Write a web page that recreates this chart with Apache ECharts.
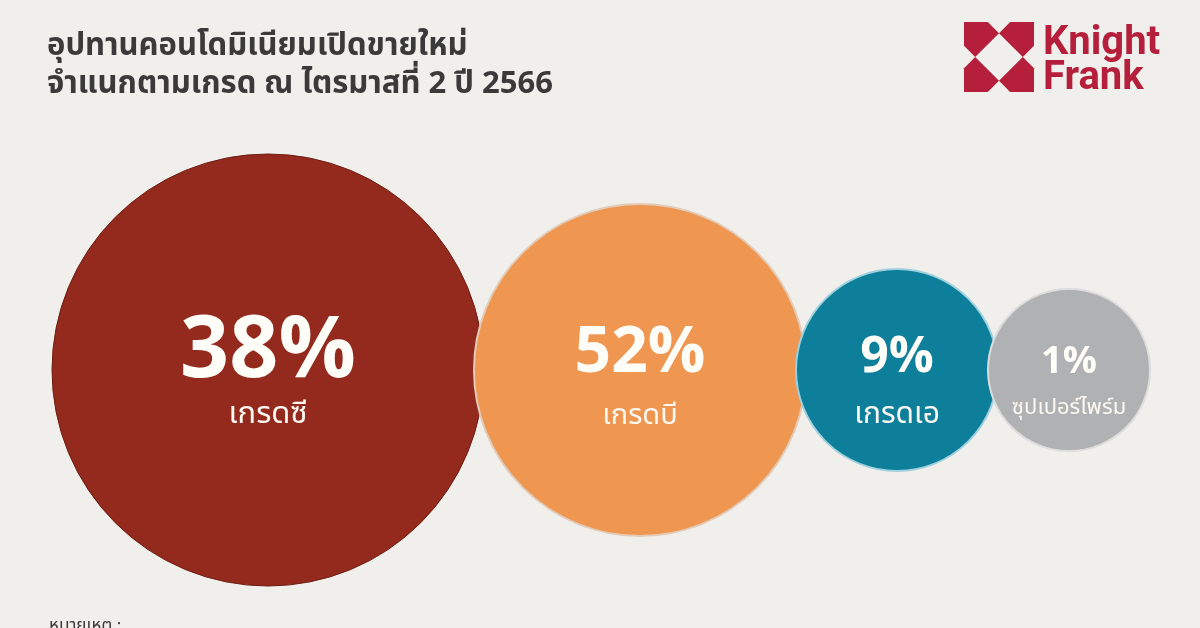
<!DOCTYPE html>
<html>
<head>
<meta charset="utf-8">
<script src="https://cdn.jsdelivr.net/npm/echarts@6/dist/echarts.min.js"></script>
<style>
html,body{margin:0;padding:0;background:#f0efeb;}
#c{width:1200px;height:628px;}
</style>
</head>
<body>
<div id="c"></div>
<script>
// ---- data ----
const categories = ['เกรดซี', 'เกรดบี', 'เกรดเอ', 'ซุปเปอร์ไพร์ม'];
const shares = [38, 52, 9, 1];
const titleLines = ['อุปทานคอนโดมิเนียมเปิดขายใหม่', 'จำแนกตามเกรด ณ ไตรมาสที่ 2 ปี 2566'];
const noteText = 'หมายเหตุ :';

// ---- styles ----
const colors = ['#932a1d', '#ef9650', '#0e7f9a', '#b0b1b3'];
const borders = ['#6e1d13', '#e2cbb8', '#9fd0de', '#dcdcdc'];
const diameters = [432, 332, 202, 162];
const overlap = 10;
const leftStart = 52;
const centerY = 370;
const valueFont = [86, 64, 50, 38];
const nameFont = [31, 29, 30, 22];
const valueLH = [32, 34, 24, 20];
const nameLH = [82, 84, 86, 70];
const labelShift = [31, 31, 35, 30];
const FONT = "'Noto Sans Thai','Noto Sans Thai UI','Noto Sans','Noto Sans CJK SC',sans-serif";

// layout: bubbles placed side by side with small overlap
const xs = [];
let cursor = leftStart;
diameters.forEach((d, i) => {
  xs.push(cursor + d / 2);
  cursor += d - overlap;
});

const seriesData = shares.map((v, i) => ({
  value: [xs[i], centerY, v],
  name: categories[i],
  symbolSize: diameters[i],
  itemStyle: { color: colors[i], borderColor: borders[i], borderWidth: i === 0 ? 1 : 2, opacity: 1 },
  label: {
    offset: [0, labelShift[i]],
    rich: {
      v: { fontSize: valueFont[i], fontWeight: 'bold', color: '#fffdf8', fontFamily: FONT, lineHeight: valueLH[i] },
      n: { fontSize: nameFont[i], color: '#fdf8f2', fontFamily: FONT, lineHeight: nameLH[i] }
    }
  }
}));

const chart = echarts.init(document.getElementById('c'), null, { renderer: 'canvas' });

// Knight Frank logo pieces (unit square quadrants)
const S = 70, LX = 964, LY = 22;
const q = [[0,0],[0.34,0],[0.5,0.16],[0.16,0.5],[0,0.34]];
function piece(fx, fy) {
  return q.map(([a, b]) => {
    const x = fx ? 1 - a : a;
    const y = fy ? 1 - b : b;
    return [LX + x * S, LY + y * S];
  });
}
const logoPieces = [[0,0],[1,0],[0,1],[1,1]].map(([fx, fy]) => ({
  type: 'polygon', shape: { points: piece(fx, fy) }, style: { fill: '#b51f3b' }
}));

chart.setOption({
  backgroundColor: '#f0efeb',
  animation: false,
  grid: { left: 0, right: 0, top: 0, bottom: 0 },
  xAxis: { type: 'value', min: 0, max: 1200, show: false },
  yAxis: { type: 'value', min: 0, max: 628, inverse: true, show: false },
  title: [
    { text: titleLines[0], left: 42, top: 28, textStyle: { fontFamily: FONT, fontSize: 31, fontWeight: 'bold', color: '#3a3a3a' } },
    { text: titleLines[1], left: 42, top: 66, textStyle: { fontFamily: FONT, fontSize: 31, fontWeight: 'bold', color: '#3a3a3a' } },
    { text: noteText, left: 44, top: 614, textStyle: { fontFamily: FONT, fontSize: 17, fontWeight: 'normal', color: '#3a3a3a' } }
  ],
  graphic: logoPieces.concat([
    { type: 'text', left: 1043, top: 24, style: { text: 'Knight', fill: '#b51f3b', font: "bold 40px 'Liberation Sans Narrow','Roboto',sans-serif" } },
    { type: 'text', left: 1043, top: 59, style: { text: 'Frank', fill: '#b51f3b', font: "bold 40px 'Liberation Sans Narrow','Roboto',sans-serif" } }
  ]),
  series: [{
    type: 'scatter',
    symbol: 'circle',
    data: seriesData,
    label: {
      show: true,
      position: 'inside',
      formatter: p => '{v|' + p.value[2] + '%}\n{n|' + p.name + '}'
    },
    emphasis: { disabled: true }
  }]
});
</script>
</body>
</html>
